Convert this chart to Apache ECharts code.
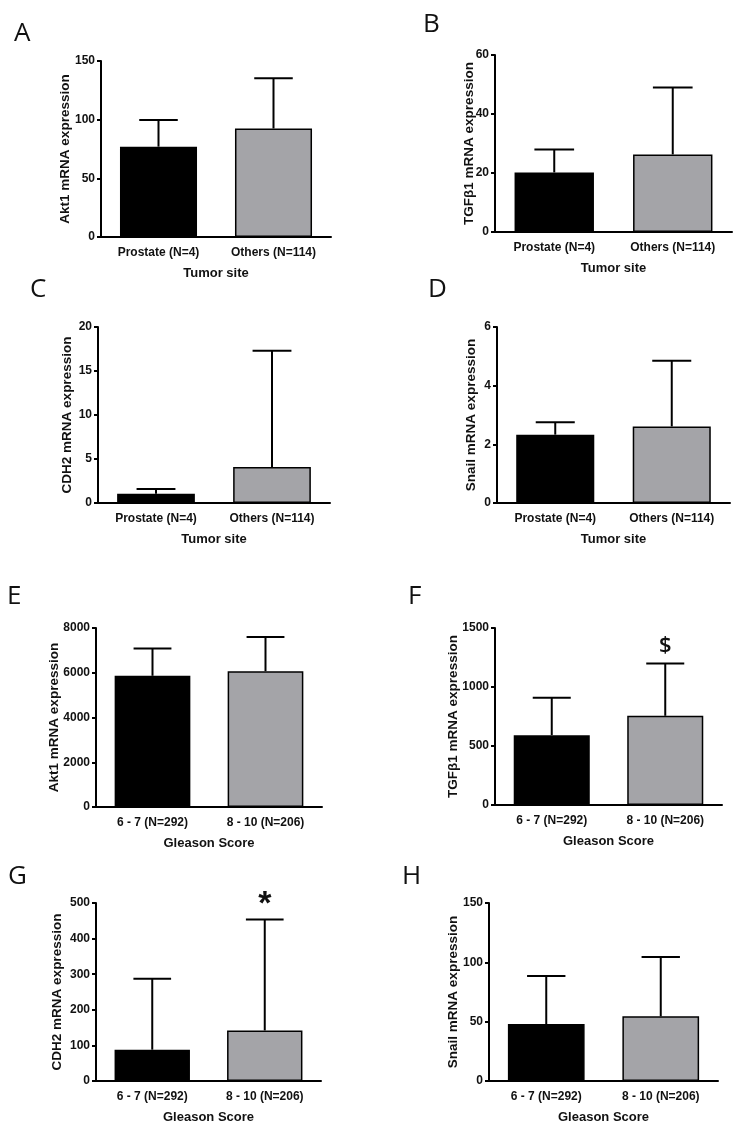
<!DOCTYPE html>
<html>
<head>
<meta charset="utf-8">
<script src="https://cdn.jsdelivr.net/npm/echarts@6/dist/echarts.min.js"></script>
<style>
html,body{margin:0;padding:0;background:#fff;}
#main{width:739px;height:1132px;}
</style>
</head>
<body>
<div id="main"></div>
<script>
// ---- data ----
var siteCategories = ['Prostate (N=4)', 'Others (N=114)'];
var gleasonCategories = ['6 - 7 (N=292)', '8 - 10 (N=206)'];

var akt1SiteMean = [77, 92.5];
var akt1SiteSD = [22.8, 42.8];
var tgfSiteMean = [20.2, 26.3];
var tgfSiteSD = [7.8, 22.7];
var cdh2SiteMean = [1.06, 4.1];
var cdh2SiteSD = [0.53, 13.2];
var snailSiteMean = [2.33, 2.61];
var snailSiteSD = [0.42, 2.24];

var akt1GleasonMean = [5864, 6071];
var akt1GleasonSD = [1225, 1526];
var tgfGleasonMean = [592, 756];
var tgfGleasonSD = [316, 443];
var cdh2GleasonMean = [88, 142];
var cdh2GleasonSD = [199, 312];
var snailGleasonMean = [48, 54.5];
var snailGleasonSD = [40.5, 50];

var tgfGleasonMarks = ['', '$'];
var cdh2GleasonMarks = ['', '*'];
var noMarks = ['', ''];

var panelLetters = ['A', 'B', 'C', 'D', 'E', 'F', 'G', 'H'];

// ---- panels ----
var panels = [
  {cats:siteCategories, mean:akt1SiteMean, sd:akt1SiteSD, marks:noMarks, yName:'Akt1 mRNA expression', xName:'Tumor site', max:150, interval:50,
   grid:{left:101, top:61, width:230, height:176}, nameGap:29, lx:14, ly:31},
  {cats:siteCategories, mean:tgfSiteMean, sd:tgfSiteSD, marks:noMarks, yName:'TGFβ1 mRNA expression', xName:'Tumor site', max:60, interval:20,
   grid:{left:495, top:55, width:237, height:177}, nameGap:19, lx:423, ly:22},
  {cats:siteCategories, mean:cdh2SiteMean, sd:cdh2SiteSD, marks:noMarks, yName:'CDH2 mRNA expression', xName:'Tumor site', max:20, interval:5,
   grid:{left:98, top:327, width:232, height:176}, nameGap:24, lx:30, ly:287},
  {cats:siteCategories, mean:snailSiteMean, sd:snailSiteSD, marks:noMarks, yName:'Snail mRNA expression', xName:'Tumor site', max:6, interval:2,
   grid:{left:497, top:327, width:233, height:176}, nameGap:19, lx:428, ly:287},
  {cats:gleasonCategories, mean:akt1GleasonMean, sd:akt1GleasonSD, marks:noMarks, yName:'Akt1 mRNA expression', xName:'Gleason Score', max:8000, interval:2000,
   grid:{left:96, top:628, width:226, height:179}, nameGap:35, lx:7, ly:594},
  {cats:gleasonCategories, mean:tgfGleasonMean, sd:tgfGleasonSD, marks:tgfGleasonMarks, yName:'TGFβ1 mRNA expression', xName:'Gleason Score', max:1500, interval:500,
   grid:{left:495, top:628, width:227, height:177}, nameGap:35, lx:408, ly:594},
  {cats:gleasonCategories, mean:cdh2GleasonMean, sd:cdh2GleasonSD, marks:cdh2GleasonMarks, yName:'CDH2 mRNA expression', xName:'Gleason Score', max:500, interval:100,
   grid:{left:96, top:903, width:225, height:178}, nameGap:32, lx:8, ly:874},
  {cats:gleasonCategories, mean:snailGleasonMean, sd:snailGleasonSD, marks:noMarks, yName:'Snail mRNA expression', xName:'Gleason Score', max:150, interval:50,
   grid:{left:489, top:903, width:229, height:178}, nameGap:29, lx:402, ly:874}
];

var FONT = '"Liberation Sans", Arial, sans-serif';
var GRAY = '#a4a4a8';

var grids = [], xAxes = [], yAxes = [], series = [], graphics = [];

panels.forEach(function (p, i) {
  grids.push(p.grid);
  xAxes.push({
    type:'category', gridIndex:i, data:p.cats,
    name:p.xName, nameLocation:'middle', nameGap:30, nameMoveOverlap:false,
    nameTextStyle:{fontFamily:FONT, fontWeight:'bold', fontSize:13, color:'#111'},
    axisLine:{lineStyle:{color:'#000', width:2}},
    axisTick:{alignWithLabel:true, length:5, lineStyle:{color:'#000', width:2}},
    axisLabel:{fontFamily:FONT, fontWeight:'bold', fontSize:12, color:'#111', margin:10},
    splitLine:{show:false}
  });
  yAxes.push({
    type:'value', gridIndex:i, min:0, max:p.max, interval:p.interval,
    name:p.yName, nameLocation:'middle', nameGap:p.nameGap, nameRotate:90, nameMoveOverlap:false,
    nameTextStyle:{fontFamily:FONT, fontWeight:'bold', fontSize:13.5, color:'#111'},
    axisLine:{show:true, lineStyle:{color:'#000', width:2}},
    axisTick:{show:true, length:4, lineStyle:{color:'#000', width:2}},
    axisLabel:{fontFamily:FONT, fontWeight:'bold', fontSize:12, color:'#111', margin:6,
      formatter:function (v) { return String(v); }},
    splitLine:{show:false}
  });
  series.push({
    type:'bar', xAxisIndex:i, yAxisIndex:i, barWidth:'67%', z:2,
    data:p.mean.map(function (v, j) {
      return {value:v, itemStyle:{color: j === 0 ? '#000' : GRAY, borderColor:'#000', borderWidth:1.5}};
    }),
    silent:true, animation:false
  });
  (function (marks) {
    series.push({
      type:'custom', xAxisIndex:i, yAxisIndex:i, z:3, silent:true, animation:false,
      encode:{x:0, y:1},
      data:p.mean.map(function (v, j) { return [j, v, p.sd[j]]; }),
      renderItem:function (params, api) {
        var x = api.value(0), m = api.value(1), s = api.value(2);
        var p0 = api.coord([x, m]);
        var p1 = api.coord([x, m + s]);
        var band = api.size([1, 0])[0];
        var half = band * 0.67 / 4;
        var children = [
          {type:'line', shape:{x1:p0[0], y1:p0[1], x2:p1[0], y2:p1[1]}, style:{stroke:'#000', lineWidth:2}},
          {type:'line', shape:{x1:p1[0] - half, y1:p1[1], x2:p1[0] + half, y2:p1[1]}, style:{stroke:'#000', lineWidth:2}}
        ];
        var mk = marks[params.dataIndex];
        if (mk === '$') {
          children.push({type:'text', style:{text:'$', x:p1[0], y:p1[1] - 18, align:'center', verticalAlign:'middle',
            font:'600 22px "Open Sans", sans-serif', fill:'#111'}});
        } else if (mk === '*') {
          children.push({type:'text', style:{text:'*', x:p1[0], y:p1[1] - 15, align:'center', verticalAlign:'middle',
            font:'bold 34px "Liberation Sans", Arial, sans-serif', fill:'#111'}});
        }
        return {type:'group', children:children};
      }
    });
  })(p.marks);
  graphics.push({
    type:'text', left:p.lx, top:p.ly - 10,
    style:{text:panelLetters[i], font:'26px "Open Sans", sans-serif', fill:'#111'}
  });
});

var chart = echarts.init(document.getElementById('main'), null, {renderer:'canvas'});
chart.setOption({
  animation:false,
  backgroundColor:'#fff',
  grid:grids, xAxis:xAxes, yAxis:yAxes, series:series, graphic:graphics
});
</script>
</body>
</html>
